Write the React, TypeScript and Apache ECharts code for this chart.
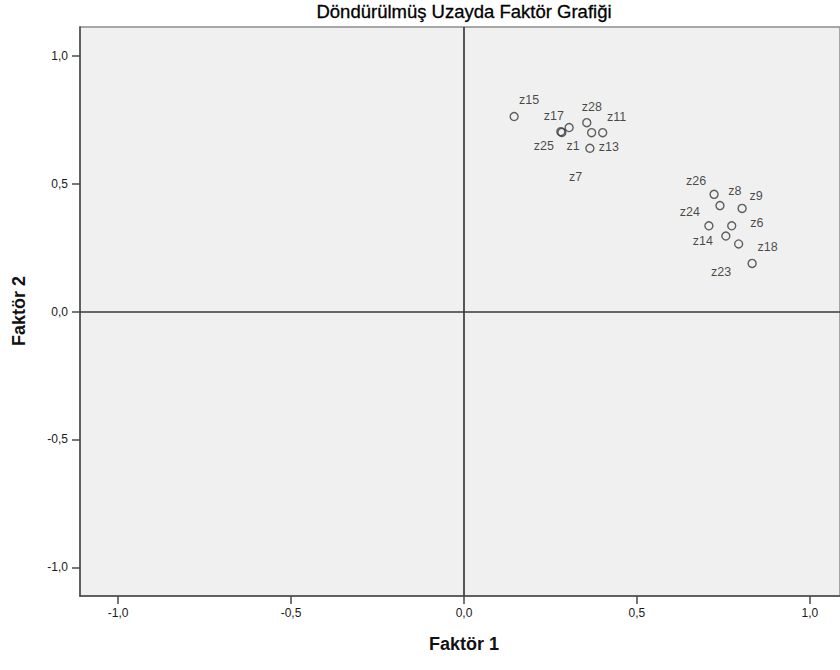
import React, { useEffect, useRef } from "react";
import * as echarts from "echarts";

const TITLE = "Döndürülmüş Uzayda Faktör Grafiği";
const X_NAME = "Faktör 1";
const Y_NAME = "Faktör 2";
const TICKS = [-1, -0.5, 0, 0.5, 1];

const names = ["z15", "z17", "z25", "z1", "z28", "z7", "z11", "z13", "z26", "z8", "z9", "z24", "z6", "z14", "z18", "z23"];
const factor1 = [0.145, 0.280, 0.283, 0.304, 0.355, 0.369, 0.401, 0.364, 0.723, 0.740, 0.804, 0.708, 0.774, 0.757, 0.794, 0.833];
const factor2 = [0.762, 0.703, 0.700, 0.719, 0.738, 0.699, 0.699, 0.638, 0.458, 0.414, 0.403, 0.335, 0.335, 0.295, 0.264, 0.188];
const labelOffsets: number[][] = [
  [15, -17], [-7, -16], [-18, 14], [4, 18], [5, -16], [-16, 44], [14, -16], [19, -1],
  [-18, -13], [15, -15], [14, -12], [-19, -14], [25, -3], [-23, 5], [29, 3], [-31, 9],
];

const fmt = (v: number) => v.toFixed(1).replace(".", ",");

export default function App() {
  const ref = useRef<HTMLDivElement>(null);
  useEffect(() => {
    if (!ref.current) return;
    const chart = echarts.init(ref.current, null, { renderer: "svg" });
    const font = "Liberation Sans, Arial, sans-serif";
    const data = names.map((n, i) => ({
      name: n,
      value: [factor1[i], factor2[i]],
      label: {
        show: true,
        formatter: n,
        position: "inside",
        align: "center",
        verticalAlign: "middle",
        offset: labelOffsets[i],
        color: "#1a1a1a",
        fontSize: 12.5,
        fontFamily: font,
      },
    }));
    const axisCommon = {
      axisLine: { show: true, onZero: false, lineStyle: { color: "#4a4a4a", width: 1.5 } },
      axisTick: { show: true, length: 8, customValues: TICKS, lineStyle: { color: "#4a4a4a", width: 1.5 } },
      axisLabel: { customValues: TICKS, formatter: fmt, color: "#1a1a1a", fontSize: 12, fontFamily: font },
      splitLine: { show: false },
    };
    chart.setOption({
      animation: false,
      backgroundColor: "#ffffff",
      grid: {
        left: 80, top: 27, right: 0, bottom: 74,
        show: true, backgroundColor: "#f0f0f0", borderColor: "#8c8c8c", borderWidth: 1.5,
      },
      xAxis: {
        type: "value", min: -1.110, max: 1.087,
        ...axisCommon,
        axisLabel: { ...axisCommon.axisLabel, margin: 11 },
      },
      yAxis: {
        type: "value", min: -1.112, max: 1.112,
        ...axisCommon,
        axisLabel: { ...axisCommon.axisLabel, margin: 12 },
      },
      graphic: [
        {
          type: "text", x: 464, y: 11,
          style: { text: TITLE, fontSize: 18.5, fontFamily: font, fill: "#000", align: "center", verticalAlign: "middle", stroke: "#000", lineWidth: 0.3 },
        },
        {
          type: "text", x: 464, y: 644,
          style: { text: X_NAME, fontSize: 18, fontWeight: "bold", fontFamily: font, fill: "#111", align: "center", verticalAlign: "middle" },
        },
        {
          type: "text", x: 19, y: 311, rotation: Math.PI / 2,
          style: { text: Y_NAME, fontSize: 18, fontWeight: "bold", fontFamily: font, fill: "#111", align: "center", verticalAlign: "middle" },
        },
      ],
      series: [
        {
          type: "scatter",
          data,
          symbol: "circle",
          symbolSize: 8,
          itemStyle: { color: "rgba(0,0,0,0)", borderColor: "#3a3a3a", borderWidth: 1.4 },
          markLine: {
            silent: true,
            symbol: ["none", "none"],
            label: { show: false },
            lineStyle: { color: "#3a3a3a", width: 1.7, type: "solid" },
            data: [{ xAxis: 0 }, { yAxis: 0 }],
          },
          z: 3,
        },
      ],
    });
    return () => chart.dispose();
  }, []);
  return <div ref={ref} style={{ position: "fixed", left: 0, top: 0, width: 840, height: 670 }} />;
}
